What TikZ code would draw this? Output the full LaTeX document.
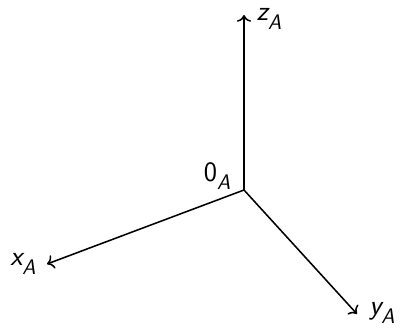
\documentclass[tikz,border=0pt]{standalone}
\usepackage{fontspec}
\setsansfont{Latin Modern Sans}
\usetikzlibrary{arrows.meta}
\newcommand\axlab[2]{#1\raisebox{-0.3em}{\fontsize{15}{18}\selectfont #2}}
\begin{document}
\begin{tikzpicture}[x=0.025cm,y=-0.025cm,
  lab/.style={font=\sffamily\slshape\fontsize{20}{24}\selectfont,inner sep=0pt},
  axis/.style={line width=1.1pt,-{To[scale=1.2]}}]
\useasboundingbox (0,0) rectangle (400,328);
\coordinate (o) at (244,190);
\coordinate (z) at (244,15);
\coordinate (x) at (47,264);
\coordinate (y) at (357,314);
\draw[axis] (o) -- (z);
\draw[axis] (o) -- (x);
\draw[axis] (o) -- (y);
\node[lab] (zl) at (269,19) {\axlab{z}{A}};
\node[lab] (xl) at (23,264) {\axlab{x}{A}};
\node[lab] (yl) at (382,313) {\axlab{y}{A}};
\node[lab,font=\sffamily\fontsize{20}{24}\selectfont] (ol) at (217,176) {0\raisebox{-0.3em}{\fontsize{15}{18}\selectfont\slshape A}};
\end{tikzpicture}
\end{document}
